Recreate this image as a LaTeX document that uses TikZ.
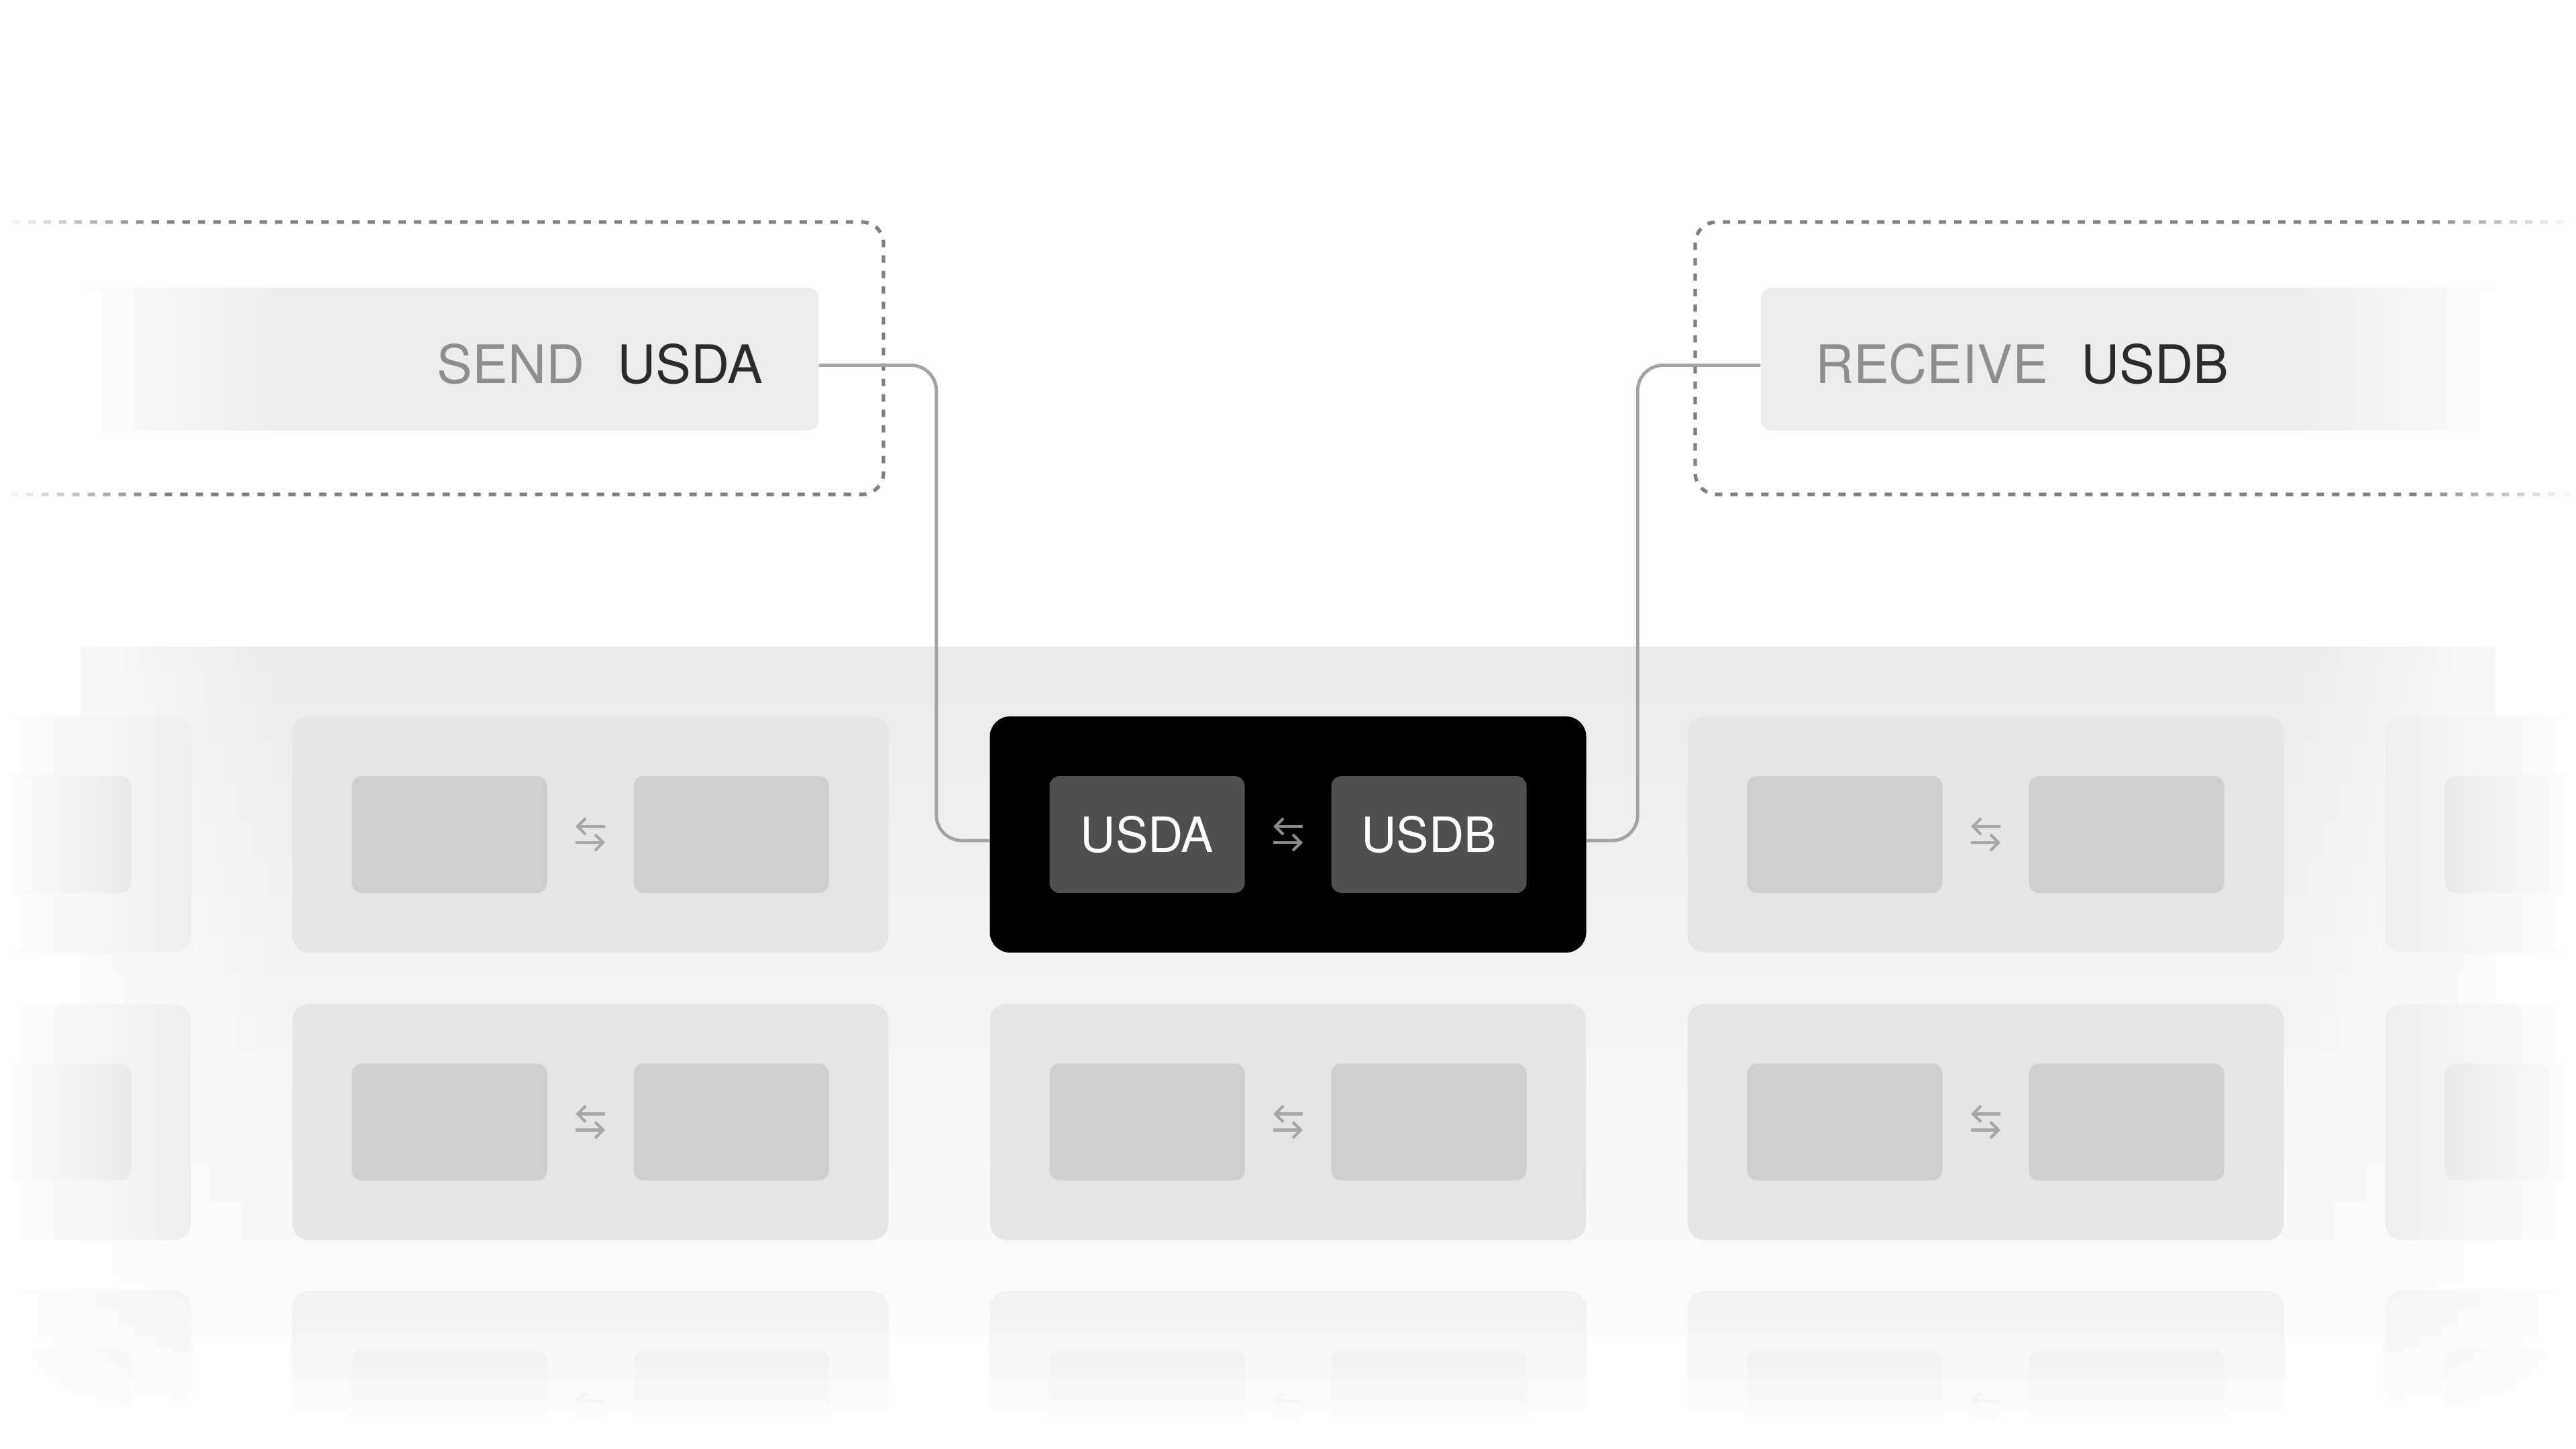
\documentclass[tikz,border=0pt]{standalone}
\usepackage{fontspec}
\setmainfont{TeX Gyre Heros}
\usetikzlibrary{arrows.meta,fadings}

\definecolor{bandgrey}{HTML}{EAEAEA}
\definecolor{cardgrey}{HTML}{E5E5E5}
\definecolor{slotgrey}{HTML}{CECECE}
\definecolor{cardfaint}{HTML}{F0F0F0}
\definecolor{slotfaint}{HTML}{E4E4E4}
\definecolor{slotdark}{HTML}{4F4F4F}
\definecolor{tagfill}{HTML}{ECECEC}
\definecolor{dashgrey}{HTML}{808080}
\definecolor{wiregrey}{HTML}{A3A3A3}
\definecolor{icongrey}{HTML}{A6A6A6}
\definecolor{iconfaint}{HTML}{D0D0D0}
\definecolor{icondark}{HTML}{8A8A8A}
\definecolor{labelgrey}{HTML}{8E8E8E}
\definecolor{labeldark}{HTML}{2B2B2B}

\tikzfading[name=fade from left, left color=transparent!0, right color=transparent!100]
\tikzfading[name=fade from right, left color=transparent!100, right color=transparent!0]
\tikzfading[name=fade from bottom, top color=transparent!100, bottom color=transparent!0]

\tikzset{
  card/.style={rectangle, fill=cardgrey, rounded corners=0.25cm, minimum width=8.89cm, minimum height=3.52cm, inner sep=0pt},
  slot/.style={rectangle, fill=slotgrey, rounded corners=0.15cm, minimum width=2.91cm, minimum height=1.74cm, inner sep=0pt},
  icon/.style={icongrey},
  tag/.style={rectangle, fill=tagfill, rounded corners=0.15cm, minimum width=11.17cm, minimum height=2.13cm, inner sep=0pt},
  groupline/.style={draw=dashgrey, line width=1.5pt, dash pattern=on 0.11cm off 0.12cm, rounded corners=0.32cm},
  wire/.style={draw=wiregrey, line width=1.4pt, rounded corners=0.38cm},
  tagfont/.style={font=\fontsize{22.5}{27}\selectfont},
  coinfont/.style={font=\fontsize{20.6}{25}\selectfont, text=white},
  swapicon/.pic={
    \draw[line width=1.2pt, -{Straight Barb[length=0.12cm, width=0.24cm]}] (0.22,0.12) -- (-0.22,0.12);
    \draw[line width=1.2pt, -{Straight Barb[length=0.12cm, width=0.24cm]}] (-0.22,-0.12) -- (0.22,-0.12);
  },
  swapcard/.pic={
    \node[card] (-card) at (0,0) {};
    \node[slot] (-a) at (-2.1,0) {};
    \node[slot] (-b) at (2.1,0) {};
    \pic[icon] at (0,0) {swapicon};
  }
}

\begin{document}
\begin{tikzpicture}
    \clip (0,0) rectangle (38.4,21.6);
    \fill[white] (0,0) rectangle (38.4,21.6);

    \shade[top color=bandgrey, bottom color=white] (1.2,0) rectangle (37.2,11.95);

    \draw[groupline] (-0.5,18.29) -- (13.17,18.29) -- (13.17,14.23) -- (-0.5,14.23);
    \draw[groupline] (38.9,18.29) -- (25.27,18.29) -- (25.27,14.23) -- (38.9,14.23);

    \node[tag] (sendtag) at (6.615,16.245) {};
    \node[tag] (receivetag) at (31.835,16.245) {};
    \node[tagfont, anchor=east, inner sep=0pt] (sendtext) at ([xshift=-0.83cm,yshift=-0.07cm]sendtag.east) {\textcolor{labelgrey}{SEND}\hspace{0.49cm}\textcolor{labeldark}{USDA}};
    \node[tagfont, anchor=west, inner sep=0pt] (receivetext) at ([xshift=0.81cm,yshift=-0.07cm]receivetag.west) {\textcolor{labelgrey}{RECEIVE}\hspace{0.49cm}\textcolor{labeldark}{USDB}};

    \pic (r1c0) at (-1.6,9.16) {swapcard};
    \pic (r1c1) at (8.8,9.16) {swapcard};
    \pic (r1c3) at (29.6,9.16) {swapcard};
    \pic (r1c4) at (40.0,9.16) {swapcard};

    \pic (r2c0) at (-1.6,4.875) {swapcard};
    \pic (r2c1) at (8.8,4.875) {swapcard};
    \pic (r2c2) at (19.2,4.875) {swapcard};
    \pic (r2c3) at (29.6,4.875) {swapcard};
    \pic (r2c4) at (40.0,4.875) {swapcard};

    \begin{scope}[card/.append style={fill=cardfaint}, slot/.append style={fill=slotfaint}, icon/.style={iconfaint}]
    \pic (r3c0) at (-1.6,0.595) {swapcard};
    \pic (r3c1) at (8.8,0.595) {swapcard};
    \pic (r3c2) at (19.2,0.595) {swapcard};
    \pic (r3c3) at (29.6,0.595) {swapcard};
    \pic (r3c4) at (40.0,0.595) {swapcard};
    \end{scope}

    \node[card, fill=black, rounded corners=0.3cm] (swap) at (19.2,9.16) {};
    \node[slot, fill=slotdark, coinfont] (usda) at (17.1,9.16) {USDA};
    \node[slot, fill=slotdark, coinfont] (usdb) at (21.3,9.16) {USDB};
    \pic[icondark] at (19.2,9.16) {swapicon};

    \draw[wire] ([yshift=-0.09cm]sendtag.east) -| ([xshift=-0.79cm,yshift=-0.09cm]swap.west) -- ([yshift=-0.09cm]swap.west);
    \draw[wire] ([yshift=-0.09cm]receivetag.west) -| ([xshift=0.76cm,yshift=-0.09cm]swap.east) -- ([yshift=-0.09cm]swap.east);

    \fill[white, path fading=fade from left] (0,0) rectangle (4.3,12.0);
    \fill[white, path fading=fade from right] (34.1,0) rectangle (38.4,12.0);
    \fill[white, path fading=fade from bottom] (0,0.35) rectangle (38.4,2.45);
    \fill[white] (0,0) rectangle (38.4,0.35);
    \fill[white, path fading=fade from left] (0,13.9) rectangle (2.4,18.6);
    \fill[white, path fading=fade from right] (36.0,13.9) rectangle (38.4,18.6);
    \fill[white, path fading=fade from left] (1.0,15.1) rectangle (4.2,17.4);
    \fill[white, path fading=fade from right] (34.2,15.1) rectangle (37.5,17.4);
\end{tikzpicture}
\end{document}
